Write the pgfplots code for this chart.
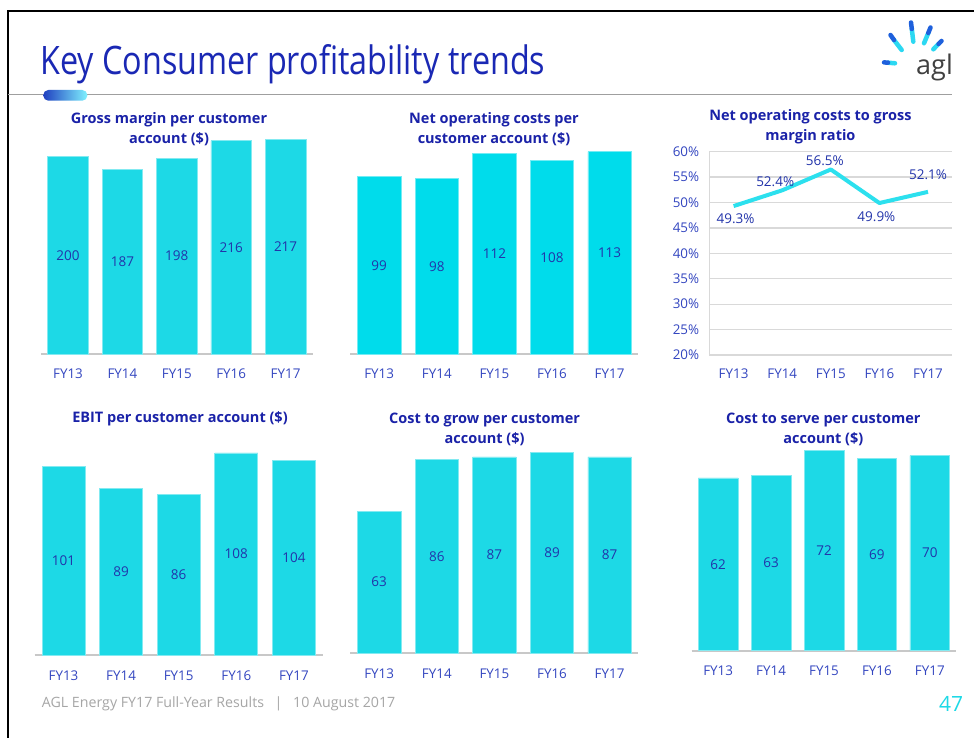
\documentclass[border=0pt]{standalone}
\usepackage{pgfplots}
\pgfplotsset{compat=1.18}
\usepackage{fontspec}
\setmainfont{Open Sans}
\definecolor{barcyan}{HTML}{1DD9E6}
\definecolor{barcyanb}{HTML}{00DCEB}
\definecolor{linecyan}{HTML}{2CE0EE}
\definecolor{labblue}{HTML}{2234AA}
\definecolor{tickblue}{HTML}{3346C0}
\definecolor{titleblue}{HTML}{1A22A8}
\definecolor{headblue}{HTML}{1A28B4}
\definecolor{axgray}{HTML}{C8C8C8}
\definecolor{gridgray}{HTML}{D9D9D9}
\definecolor{footgray}{HTML}{A6A6A6}
\definecolor{pillblue}{HTML}{2040C0}
\definecolor{pillcyan}{HTML}{80F2FF}
\definecolor{raycyan}{HTML}{2BD8F2}
\definecolor{rayblue}{HTML}{1E60DC}

\pgfplotsset{
  barchart/.style={
    scale only axis, clip=false,
    xmin=-0.5, xmax=4.5, ymin=0,
    axis x line*=bottom, axis y line=none,
    x axis line style={-, draw=axgray, line width=2pt},
    xtick={0,1,2,3,4}, xticklabels={FY13,FY14,FY15,FY16,FY17},
    major tick length=0pt, xtick style={draw=none},
    ytick=\empty,
    xticklabel style={anchor=base, yshift=-25pt, text=tickblue, font=\fontsize{13.4}{15}\selectfont, inner sep=0pt},
  },
  barplot/.style={ybar, bar shift=0pt, fill=#1, draw=#1!55!white, line width=0.6pt},
  barlab/.style={draw=none, mark=none, point meta=explicit symbolic,
    nodes near coords={\pgfplotspointmeta},
    nodes near coords style={anchor=center, text=labblue, font=\fontsize{13.5}{15}\selectfont}},
}
\newcommand{\ctitle}{\fontsize{14.5}{16}\selectfont\bfseries\color{titleblue}}

\begin{document}
\begin{tikzpicture}
\path[fill=white] (0pt,0pt) rectangle (974pt,738pt);
\useasboundingbox (0pt,0pt) rectangle (974pt,738pt);

% frame
\draw[black, line width=2.4pt] (8pt,0pt) -- (8pt,727pt) -- (974pt,727pt);
% header line and pill
\draw[gray!75, line width=1.2pt] (8pt,643.5pt) -- (952pt,643.5pt);
\shade[left color=pillblue, right color=pillcyan, rounded corners=5pt] (43.3pt,637.3pt) rectangle (87.3pt,648pt);
% title
\node[anchor=base west, inner sep=0pt, text=headblue] at (40pt,663pt)
  {\resizebox{505pt}{30pt}{Key Consumer profitability trends}};
% logo
\begin{scope}[line width=4.5pt, line cap=round]
  \draw[raycyan] (895pt,674.7pt) -- (888pt,675.3pt);
  \draw[rayblue] (888pt,675.3pt) -- (884pt,675.6pt);
  \draw[raycyan] (901.7pt,688pt) -- (894pt,698pt);
  \draw[rayblue] (894pt,698pt) -- (890.5pt,703pt);
  \draw[raycyan] (913.3pt,696.3pt) -- (911.8pt,709pt);
  \draw[rayblue] (911.8pt,709pt) -- (911pt,715.5pt);
  \draw[raycyan] (924pt,694.7pt) -- (928.3pt,705pt);
  \draw[rayblue] (928.3pt,705pt) -- (930.5pt,710.5pt);
  \draw[raycyan] (933.3pt,688.7pt) -- (938.5pt,694pt);
  \draw[rayblue] (938.5pt,694pt) -- (941.5pt,697pt);
\end{scope}
\node[anchor=base west, inner sep=0pt, text=black!75, font=\fontsize{27}{30}\selectfont] at (916pt,663pt) {agl};

% footer
\node[anchor=base west, inner sep=0pt, text=footgray, font=\fontsize{14.2}{16}\selectfont] at (41.7pt,30pt)
  {AGL Energy FY17 Full-Year Results\hspace{0.75em}|\hspace{0.75em}10 August 2017};
\node[anchor=base, inner sep=0pt, text=barcyan, font=\fontsize{21}{24}\selectfont] at (951pt,26pt) {47};

% chart titles
\node[anchor=base, inner sep=0pt] at (169pt,614.7pt) {\ctitle Gross margin per customer};
\node[anchor=base, inner sep=0pt] at (169pt,594.7pt) {\ctitle account (\$)};
\node[anchor=base, inner sep=0pt] at (494pt,614.7pt) {\ctitle Net operating costs per};
\node[anchor=base, inner sep=0pt] at (494pt,594.7pt) {\ctitle customer account (\$)};
\node[anchor=base, inner sep=0pt] at (810.4pt,617pt) {\ctitle Net operating costs to gross};
\node[anchor=base, inner sep=0pt] at (810.4pt,597pt) {\ctitle margin ratio};
\node[anchor=base, inner sep=0pt] at (180pt,315.7pt) {\ctitle EBIT per customer account (\$)};
\node[anchor=base, inner sep=0pt] at (484.6pt,314.7pt) {\ctitle Cost to grow per customer};
\node[anchor=base, inner sep=0pt] at (484.6pt,294.7pt) {\ctitle account (\$)};
\node[anchor=base, inner sep=0pt] at (823.3pt,314.7pt) {\ctitle Cost to serve per customer};
\node[anchor=base, inner sep=0pt] at (823.3pt,294.7pt) {\ctitle account (\$)};

% Chart 1: Gross margin per customer account
\begin{axis}[barchart, at={(40.8pt,384pt)}, anchor=south west,
  width=272pt, height=217.4pt, ymax=220]
  \addplot[barplot=barcyan, bar width=40.5pt] table[x=x, y=v] {
    x v
    0 200
    1 187
    2 198
    3 216
    4 217
  };
  \addplot[barlab] table[x=x, y expr=\thisrow{v}/2, meta=v] {
    x v
    0 200
    1 187
    2 198
    3 216
    4 217
  };
\end{axis}

% Chart 2: Net operating costs per customer account
\begin{axis}[barchart, at={(350.4pt,384pt)}, anchor=south west,
  width=288pt, height=214.8pt, ymax=120]
  \addplot[barplot=barcyanb, bar width=43.5pt] table[x=x, y=v] {
    x v
    0 99
    1 98
    2 112
    3 108
    4 113
  };
  \addplot[barlab] table[x=x, y expr=\thisrow{v}/2, meta=v] {
    x v
    0 99
    1 98
    2 112
    3 108
    4 113
  };
\end{axis}

% Chart 3: Net operating costs to gross margin ratio
\begin{axis}[scale only axis, clip=false, at={(709.3pt,383pt)}, anchor=south west,
  width=243pt, height=203.3pt,
  xmin=-0.5, xmax=4.5, ymin=20, ymax=60,
  axis x line*=bottom, axis y line*=left,
  x axis line style={draw=none},
  y axis line style={-, draw=gridgray, line width=1.6pt},
  ymajorgrids, grid style={draw=gridgray, line width=1.3pt},
  major tick length=0pt, tick style={draw=none},
  xtick={0,1,2,3,4}, xticklabels={FY13,FY14,FY15,FY16,FY17},
  ytick={20,25,30,35,40,45,50,55,60},
  yticklabels={20\%,25\%,30\%,35\%,40\%,45\%,50\%,55\%,60\%},
  xticklabel style={anchor=base, yshift=-24pt, text=tickblue, font=\fontsize{13.4}{15}\selectfont, inner sep=0pt},
  yticklabel style={anchor=east, xshift=-10pt, text=tickblue, font=\fontsize{13.4}{15}\selectfont, inner sep=0pt},
]
  \addplot[linecyan, line width=4pt, mark=none, line join=round] table[x=x, y=y] {
    x y
    0 49.3
    1 52.4
    2 56.5
    3 49.9
    4 52.1
  };
  \addplot[draw=none, mark=none, point meta=explicit symbolic,
    visualization depends on={\thisrow{dx} \as \dx},
    visualization depends on={\thisrow{dy} \as \dy},
    nodes near coords={\pgfplotspointmeta\%},
    nodes near coords style={anchor=center, xshift=\dx pt, yshift=\dy pt, text=labblue, font=\fontsize{13.5}{15}\selectfont}]
    table[x=x, y=y, meta=y] {
    x y dx dy
    0 49.3 2 -13
    1 52.4 -7 9
    2 56.5 -6 8.5
    3 49.9 -3 -14
    4 52.1 0 17
  };
\end{axis}

% Chart 4: EBIT per customer account
\begin{axis}[barchart, at={(34.7pt,82.7pt)}, anchor=south west,
  width=288pt, height=215.5pt, ymax=115]
  \addplot[barplot=barcyan, bar width=43pt] table[x=x, y=v] {
    x v
    0 101
    1 89
    2 86
    3 108
    4 104
  };
  \addplot[barlab] table[x=x, y expr=\thisrow{v}/2, meta=v] {
    x v
    0 101
    1 89
    2 86
    3 108
    4 104
  };
\end{axis}

% Chart 5: Cost to grow per customer account
\begin{axis}[barchart, at={(350.4pt,84.7pt)}, anchor=south west,
  width=288pt, height=214.5pt, ymax=95]
  \addplot[barplot=barcyan, bar width=43.5pt] table[x=x, y=v] {
    x v
    0 63
    1 86
    2 87
    3 89
    4 87
  };
  \addplot[barlab] table[x=x, y expr=\thisrow{v}/2, meta=v] {
    x v
    0 63
    1 86
    2 87
    3 89
    4 87
  };
\end{axis}

% Chart 6: Cost to serve per customer account
\begin{axis}[barchart, at={(691.7pt,87.3pt)}, anchor=south west,
  width=264.6pt, height=209pt, ymax=75]
  \addplot[barplot=barcyan, bar width=39.7pt] table[x=x, y=v] {
    x v
    0 62
    1 63
    2 72
    3 69
    4 70
  };
  \addplot[barlab] table[x=x, y expr=\thisrow{v}/2, meta=v] {
    x v
    0 62
    1 63
    2 72
    3 69
    4 70
  };
\end{axis}
\end{tikzpicture}
\end{document}
